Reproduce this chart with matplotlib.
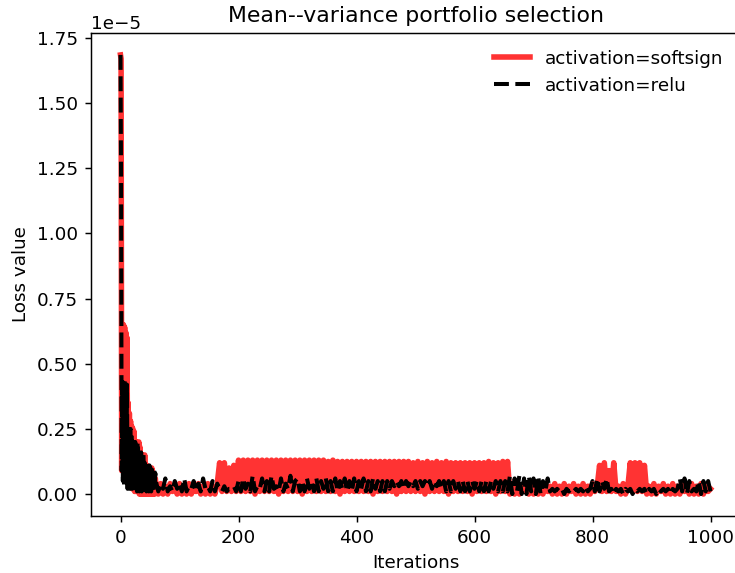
import matplotlib
matplotlib.use('Agg')
import matplotlib.pyplot as plt
import numpy as np

# loss values are written in units of 1e-7
# iterations 0..59 every step, then 60..1000 every 4 steps
early_iters = list(range(0, 60))
late_iters = list(range(60, 1001, 4))

softsign_early = [
    168.5, 167, 9, 64, 10, 65, 9, 64, 12, 62, 10, 60, 8, 35, 4, 31, 3, 28, 3, 26,
    2, 25, 2, 24, 1, 20, 1, 20, 1, 19, 1, 20, 0, 18, 0, 15, 0, 15, 0, 14,
    0, 15, 0, 10, 0, 11, 0, 10, 0, 10, 0, 9, 0, 10, 0, 7, 0, 7, 0, 6,
]
softsign_late = [
    3, 0, 4, 0, 3, 0, 4, 1, 3, 0, 4, 0, 3, 0, 4, 0, 3, 1, 4, 0, 3, 0, 4, 0, 3, 0, 4,
    12, 1, 12, 1, 10, 1, 11, 1, 13, 1, 13, 1, 13, 1, 13, 0, 13, 1, 13, 1,
    13, 1, 13, 1, 13, 0, 13, 1, 13, 1, 13, 1, 13, 1, 13, 0, 13, 1, 13, 1,
    13, 1, 13, 1, 13, 1, 12.5, 1, 13, 1, 12.5, 0, 12.5, 1, 12.5, 1, 12.5, 1, 12.5, 1,
    12.5, 1, 12.5, 1, 12.5, 0, 12.5, 1, 12.5, 1, 12.5, 1, 12.5, 1, 12.5, 0, 12.5, 1, 12.5, 1,
    12.5, 1, 12, 1, 12.5, 1, 12, 0, 12.5, 1, 12, 1, 12.5, 1, 12, 1, 12.5, 0, 12, 1,
    12, 1, 12, 1, 12, 1, 12, 0, 12, 1, 12, 1, 12, 1, 12.5, 1, 12, 0, 12, 1,
    12.5, 1, 12.5,
    0, 3, 0, 4, 0, 3, 1, 4, 0, 3, 0, 4, 0, 3, 0, 4, 1, 3, 0, 4,
    0, 3, 0, 4, 0, 3, 1, 4, 0, 3, 0, 4, 0, 3, 0, 4, 1, 3,
    11, 1, 12, 1, 9, 1, 12, 1, 3,
    0, 4, 0, 3,
    12, 1, 12, 1, 12, 1, 11,
    0, 3, 0, 4, 0, 3, 1, 4, 0, 3, 0, 4, 0, 3, 0, 4, 1, 3, 0, 4,
    0, 3, 0, 4, 0, 3, 1, 2,
]

relu_early = [
    168.5, 120, 9, 44, 5, 42, 3, 44, 6, 40, 4, 42, 2, 25, 3, 24, 2, 25, 4, 23,
    2, 20, 3, 19, 1, 20, 2, 18, 1, 20, 2, 16, 1, 15, 2, 16, 1, 14, 2, 15,
    1, 12, 2, 11, 1, 12, 2, 10, 1, 11, 2, 10, 1, 11, 2, 9, 1, 10, 2, 8,
]
relu_late = [
    5, 1, 4, 2, 6, 1, 3, 1, 5, 2, 4, 1, 6, 1, 3, 2, 5, 1, 4, 1, 6, 2, 3, 1, 5, 1, 4,
    2, 1, 3, 1, 2, 2, 3, 1,
    5, 1, 6, 2, 4, 1, 7, 1, 3, 2, 6, 1, 5, 1, 7, 2, 3, 1, 6, 1, 4, 2, 7, 1, 5,
    6, 1, 5, 1, 6, 2, 5, 1, 6, 1, 5, 2, 6, 1, 5, 1, 6, 1, 5, 2,
    6, 1, 5, 1, 6, 1, 5, 2, 6, 1, 5, 1, 6, 2, 5, 1, 5, 1, 5, 2,
    5, 3, 5, 3, 5, 2, 5, 3, 5, 3, 5, 2, 5, 3, 5, 3, 5, 2, 5, 3,
    5, 2, 5, 1, 5, 1, 5, 2, 5, 1, 5, 1, 5, 1, 5, 2, 5, 1, 5, 1,
    5, 1, 5, 2, 5, 1, 5, 1, 5, 1,
    7, 0, 6, 1, 7, 0, 6, 0, 7, 1, 6, 0, 7, 0, 5, 1, 6,
    1, 2, 1, 2, 1, 2, 0, 2, 1, 2, 1, 2, 1, 2, 1, 3, 1, 2,
    5, 1, 6, 1, 5, 2, 6,
    1, 2, 0, 2, 1, 2, 0, 2, 1, 2, 0, 2, 1, 2, 1, 2, 0, 2, 1, 2,
    0, 2, 1, 2, 1, 2, 0, 2, 1, 2,
    6, 1, 6, 0, 5, 1, 2, 1, 5, 0, 5, 1, 5, 1,
]

iters = early_iters + late_iters
softsign_loss = np.array(softsign_early + softsign_late) * 1e-7
relu_loss = np.array(relu_early + relu_late) * 1e-7

# the reference was drawn ~1.32x larger than the default, scale text and ticks
s = 1.32
plt.rcParams['font.size'] = 10 * s
plt.rcParams['axes.linewidth'] = 0.8 * s
plt.rcParams['axes.titlepad'] = 6 * s
plt.rcParams['axes.labelpad'] = 4 * s
for a in ('xtick', 'ytick'):
    plt.rcParams[a + '.major.size'] = 3.5 * s
    plt.rcParams[a + '.major.width'] = 0.8 * s
    plt.rcParams[a + '.major.pad'] = 3.5 * s

fig = plt.figure(figsize=(7.35, 5.73), dpi=100)
ax = fig.add_axes([91 / 735, 57 / 573, 649 / 735, 483 / 573])

ax.plot(iters, softsign_loss, color='r', alpha=0.8, linewidth=4, label='activation=softsign')
ax.plot(iters, relu_loss, color='k', linestyle='--', linewidth=2.9, label='activation=relu')

ax.set_xlabel('Iterations')
ax.set_ylabel('Loss value')
ax.set_title('Mean--variance portfolio selection')
ax.legend(loc='upper right', frameon=False)

fig.savefig('out.png', dpi=100)
